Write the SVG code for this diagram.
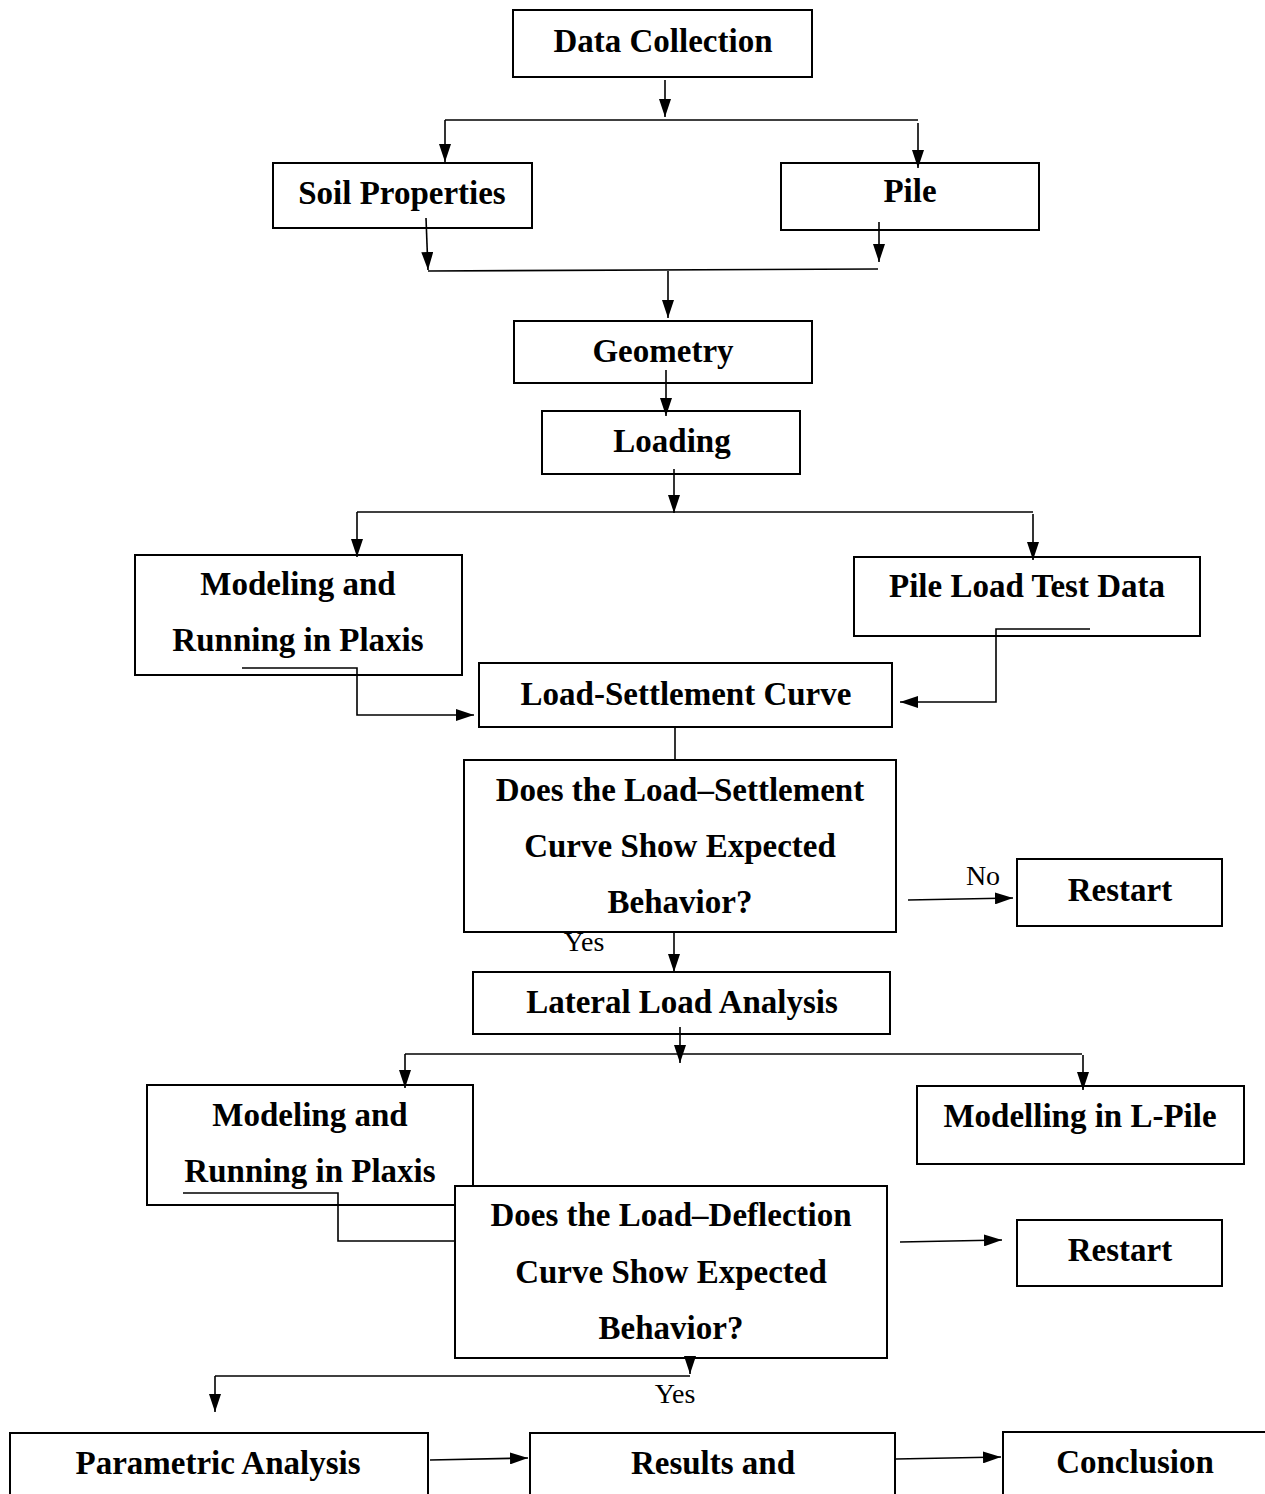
<svg xmlns="http://www.w3.org/2000/svg" width="1265" height="1494" viewBox="0 0 1265 1494">
<style>
.box{fill:#fff;stroke:#000;stroke-width:2}
.t{font-family:"Liberation Serif","Times New Roman",serif;font-weight:bold;font-size:33px;fill:#000;text-anchor:middle}
.lbl{font-family:"Liberation Serif","Times New Roman",serif;font-size:28px;fill:#000;text-anchor:middle}
.ln{fill:none;stroke:#000;stroke-width:1.6}
.ar{fill:none;stroke:#000;stroke-width:1.6;marker-end:url(#ah)}
</style>
<defs>
<marker id="ah" viewBox="0 0 18 12" markerWidth="18" markerHeight="12" refX="18" refY="6" orient="auto" markerUnits="userSpaceOnUse">
<path d="M0,0 L18,6 L0,12 z" fill="#000"/>
</marker>
</defs>
<rect width="1265" height="1494" fill="#fff"/>
<g id="n1"><rect class="box" x="513" y="10" width="299" height="67"/><text class="t" x="663" y="52">Data Collection</text></g>
<g id="n2"><rect class="box" x="273" y="163" width="259" height="65"/><text class="t" x="402" y="204">Soil Properties</text></g>
<g id="n3"><rect class="box" x="781" y="163" width="258" height="67"/><text class="t" x="910" y="202">Pile</text></g>
<g id="n4"><rect class="box" x="514" y="321" width="298" height="62"/><text class="t" x="663" y="362">Geometry</text></g>
<g id="n5"><rect class="box" x="542" y="411" width="258" height="63"/><text class="t" x="672" y="452">Loading</text></g>
<g id="n6"><rect class="box" x="135" y="555" width="327" height="120"/><text class="t" x="298" y="595">Modeling and</text><text class="t" x="298" y="651">Running in Plaxis</text></g>
<g id="n7"><rect class="box" x="854" y="557" width="346" height="79"/><text class="t" x="1027" y="597">Pile Load Test Data</text></g>
<g id="n8"><rect class="box" x="479" y="663" width="413" height="64"/><text class="t" x="686" y="705">Load-Settlement Curve</text></g>
<g id="n9"><rect class="box" x="464" y="760" width="432" height="172"/><text class="t" x="680" y="801">Does the Load–Settlement</text><text class="t" x="680" y="857">Curve Show Expected</text><text class="t" x="680" y="913">Behavior?</text></g>
<g id="n10"><rect class="box" x="1017" y="859" width="205" height="67"/><text class="t" x="1120" y="901">Restart</text></g>
<g id="n11"><rect class="box" x="473" y="972" width="417" height="62"/><text class="t" x="682" y="1013">Lateral Load Analysis</text></g>
<g id="n12"><rect class="box" x="147" y="1085" width="326" height="120"/><text class="t" x="310" y="1126">Modeling and</text><text class="t" x="310" y="1182">Running in Plaxis</text></g>
<g id="n13"><rect class="box" x="917" y="1086" width="327" height="78"/><text class="t" x="1080" y="1127">Modelling in L-Pile</text></g>
<g id="n14"><rect class="box" x="455" y="1186" width="432" height="172"/><text class="t" x="671" y="1226">Does the Load–Deflection</text><text class="t" x="671" y="1283">Curve Show Expected</text><text class="t" x="671" y="1339">Behavior?</text></g>
<g id="n15"><rect class="box" x="1017" y="1220" width="205" height="66"/><text class="t" x="1120" y="1261">Restart</text></g>
<g id="n16"><rect class="box" x="10" y="1433" width="418" height="70"/><text class="t" x="218" y="1474">Parametric Analysis</text></g>
<g id="n17"><rect class="box" x="530" y="1433" width="365" height="70"/><text class="t" x="713" y="1474">Results and</text></g>
<g id="n18"><rect class="box" x="1003" y="1432" width="270" height="70"/><text class="t" x="1135" y="1473">Conclusion</text></g>
<g id="connectors">
<path class="ar" d="M665,80 V117"/>
<path class="ln" d="M445,120 H918"/>
<path class="ar" d="M445,120 V162"/>
<path class="ar" d="M918,123 V168"/>
<path class="ar" d="M426,218 L428,270"/>
<path class="ar" d="M879,222 V262"/>
<path class="ln" d="M428,271 L878,269"/>
<path class="ar" d="M668,271 V318"/>
<path class="ar" d="M666,370 V416"/>
<path class="ar" d="M674,469 V513"/>
<path class="ln" d="M357,512 H1033"/>
<path class="ar" d="M357,512 V557"/>
<path class="ar" d="M1033,514 V560"/>
<path class="ar" d="M242,668 H357 V715 H474"/>
<path class="ar" d="M1090,629 H996 V702 H900"/>
<path class="ln" d="M675,727 V760"/>
<path class="ar" d="M908,900 L1013,898"/>
<path class="ar" d="M674,932 V972"/>
<path class="ar" d="M680,1027 V1063"/>
<path class="ln" d="M405,1054 H1082"/>
<path class="ar" d="M405,1054 V1088"/>
<path class="ar" d="M1083,1055 V1090"/>
<path class="ln" d="M183,1193 H338 V1241 H455"/>
<path class="ar" d="M900,1242 L1002,1240"/>
<path class="ar" d="M690,1358 V1374"/>
<path class="ln" d="M690,1376 H215"/>
<path class="ar" d="M215,1376 V1412"/>
<path class="ar" d="M430,1460 L528,1458"/>
<path class="ar" d="M896,1459 L1001,1457"/>
<text class="lbl" x="983" y="885">No</text>
<text class="lbl" x="584" y="951">Yes</text>
<text class="lbl" x="675" y="1403">Yes</text>
</g>
</svg>
